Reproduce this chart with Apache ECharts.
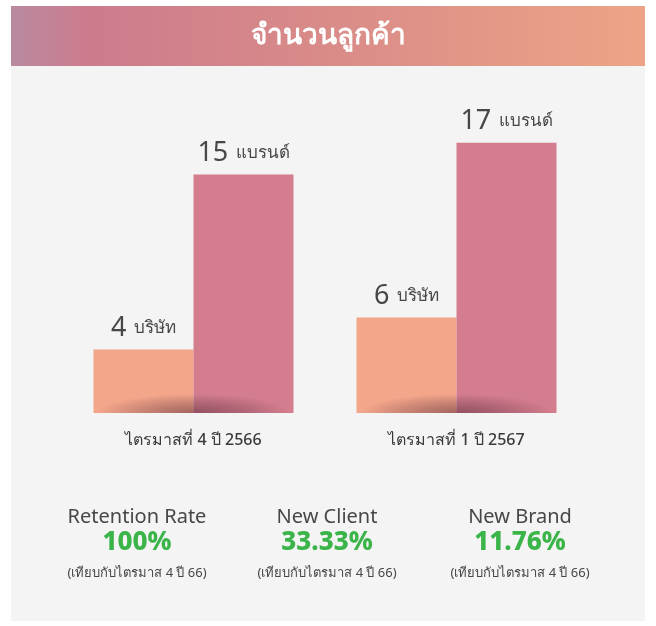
<!DOCTYPE html>
<html>
<head>
<meta charset="utf-8">
<title>จำนวนลูกค้า</title>
<script src="https://cdn.jsdelivr.net/npm/echarts@6/dist/echarts.min.js"></script>
<style>
  html, body { margin: 0; padding: 0; background: #fff; }
  #chart { width: 656px; height: 626px; }
</style>
</head>
<body>
<div id="chart"></div>
<script>
// ข้อมูล
const quarters = ['ไตรมาสที่ 4 ปี 2566', 'ไตรมาสที่ 1 ปี 2567'];
const clients = [4, 6];
const brands = [15, 17];
const clientUnit = 'บริษัท';
const brandUnit = 'แบรนด์';

const statNames = ['Retention Rate', 'New Client', 'New Brand'];
const statValues = ['100%', '33.33%', '11.76%'];
const statNote = '(เทียบกับไตรมาส 4 ปี 66)';

const FONT = '"Noto Sans", "DejaVu Sans", sans-serif';
const TEXT = '#474747';

const statX = [137, 327, 520];
const statGraphics = [];
statNames.forEach((name, i) => {
  statGraphics.push(
    { type: 'text', x: statX[i], y: 517, style: { text: name, fill: TEXT, font: '400 20px ' + FONT, align: 'center', verticalAlign: 'middle' } },
    { type: 'text', x: statX[i], y: 543, style: { text: statValues[i], fill: '#3bb54a', font: '800 26px ' + FONT, align: 'center', verticalAlign: 'middle' } },
    { type: 'text', x: statX[i], y: 573, style: { text: statNote, fill: TEXT, font: '400 13px ' + FONT, align: 'center', verticalAlign: 'middle' } }
  );
});

const labelRich = {
  n: { fontSize: 27, color: TEXT, fontFamily: FONT, padding: [0, 4, 0, 0] },
  u: { fontSize: 17, color: TEXT, fontFamily: FONT }
};

const options = {
  backgroundColor: '#fff',
  animation: false,
  graphic: [
    { type: 'rect', z: -10, shape: { x: 11, y: 66, width: 634, height: 555 }, style: { fill: '#f4f4f4' } },
    {
      type: 'rect', z: -9, shape: { x: 11, y: 6, width: 634, height: 60 },
      style: {
        fill: new echarts.graphic.LinearGradient(0, 0, 1, 0, [
          { offset: 0, color: '#b98aa0' },
          { offset: 0.12, color: '#cc7b8d' },
          { offset: 0.5, color: '#d98b88' },
          { offset: 1, color: '#eda486' }
        ])
      }
    },
    { type: 'text', x: 328, y: 36, style: { text: 'จำนวนลูกค้า', fill: '#fff', font: 'bold 28px ' + FONT, align: 'center', verticalAlign: 'middle' } },
    ...statGraphics
  ],
  grid: { left: 62, right: 68, top: 95, bottom: 213 },
  xAxis: {
    type: 'category',
    data: quarters,
    axisLine: { show: false },
    axisTick: { show: false },
    axisLabel: { color: '#3a3a3a', fontSize: 16, fontFamily: FONT, fontWeight: 500, margin: 19 }
  },
  yAxis: { type: 'value', min: 0, max: 20, show: false },
  series: [
    {
      name: clientUnit,
      type: 'bar',
      data: clients,
      barWidth: 100,
      barGap: '0%',
      itemStyle: { color: '#f3a68a' },
      label: { show: true, position: 'top', distance: 8, formatter: p => '{n|' + p.value + '} {u|' + clientUnit + '}', rich: labelRich }
    },
    {
      name: brandUnit,
      type: 'bar',
      data: brands,
      barWidth: 100,
      itemStyle: { color: '#d37d8e' },
      label: { show: true, position: 'top', distance: 8, formatter: p => '{n|' + p.value + '} {u|' + brandUnit + '}', rich: labelRich }
    },
    {
      // เงาใต้แท่ง
      type: 'custom',
      z: 5,
      silent: true,
      data: quarters.map((q, i) => [i, 0]),
      renderItem: (params, api) => {
        const p = api.coord([api.value(0), 0]);
        const r = 96;
        return {
          type: 'sector',
          shape: { cx: p[0], cy: p[1], r0: 0, r: r, startAngle: Math.PI, endAngle: Math.PI * 2 },
          scaleY: 0.2,
          originX: p[0],
          originY: p[1],
          style: {
            fill: new echarts.graphic.RadialGradient(p[0], p[1], r, [
              { offset: 0, color: 'rgba(80,35,50,0.5)' },
              { offset: 0.55, color: 'rgba(80,35,50,0.25)' },
              { offset: 1, color: 'rgba(80,35,50,0)' }
            ], true)
          }
        };
      }
    }
  ]
};

const chart = echarts.init(document.getElementById('chart'));
chart.setOption(options);
window.addEventListener('resize', () => {
  chart.resize();
});
</script>
</body>
</html>
